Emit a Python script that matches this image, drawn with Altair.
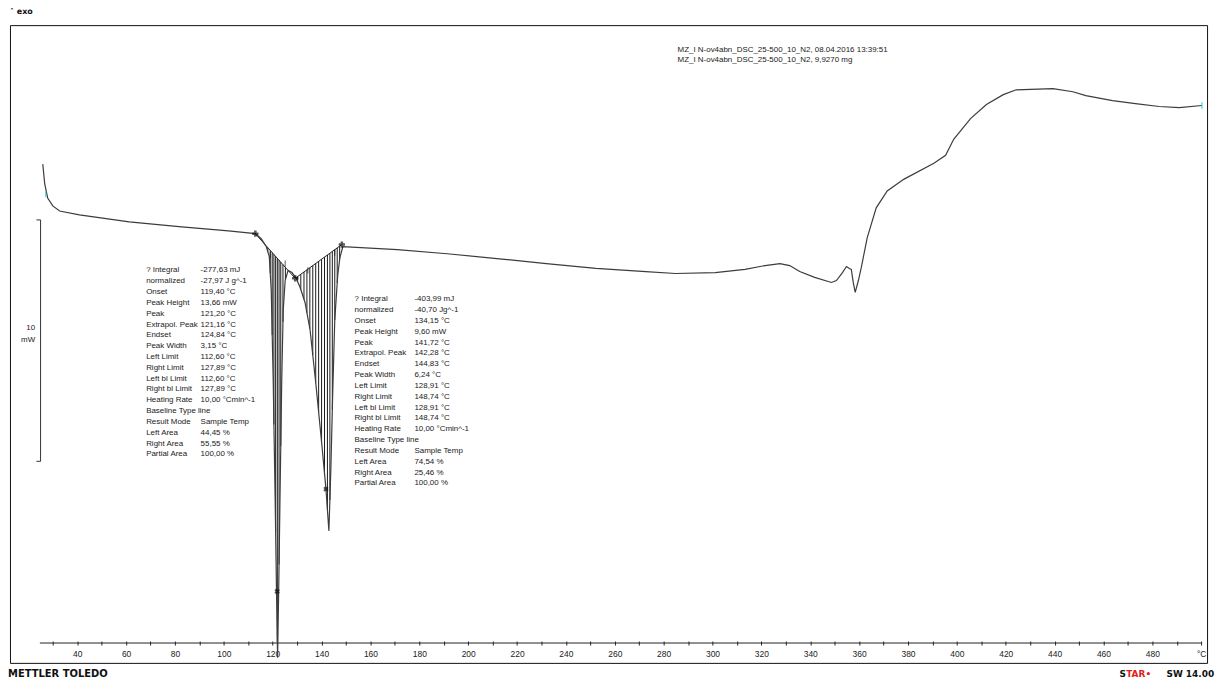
import altair as alt
import pandas as pd
import numpy as np

# ---- DSC curve (temperature in degC, heat flow in mW, arbitrary offset) ----
temp = [25.9, 26.7, 27.9, 30.0, 32.8, 40.9, 61.3, 81.6, 101.9, 112.9, 115.3, 117.4,
        118.6, 119.4, 120.2, 121.0, 121.6, 122.0, 122.4, 123.1, 123.7, 124.3, 125.1,
        126.3, 127.9, 129.6, 131.2, 133.2, 135.3, 137.7, 140.1, 141.8, 143.0, 143.8,
        144.6, 145.4, 146.6, 147.5, 148.7, 171.0, 191.4, 211.7, 232.0, 252.3, 272.7,
        284.9, 301.1, 313.3, 321.5, 327.6, 331.6, 335.7, 341.8, 348.7, 350.7, 353.2,
        354.8, 356.0, 356.8, 357.6, 358.4, 359.7, 360.9, 363.3, 367.0, 371.5, 378.4,
        390.6, 395.4, 398.7, 405.6, 412.1, 419.0, 424.3, 439.3, 447.5, 452.8, 463.7,
        473.1, 482.8, 491.0, 500.3]
heat_flow = [20.66, 19.84, 19.26, 18.93, 18.72, 18.56, 18.27, 18.07, 17.90, 17.78, 17.57, 17.24,
             16.83, 15.43, 11.73, 6.79, 2.67, 0.21, 2.67, 7.61, 11.73, 14.61, 15.84,
             16.26, 16.17, 15.93, 15.56, 14.94, 13.79, 11.52, 9.05, 7.20, 5.47, 8.02,
             11.32, 14.20, 16.05, 16.79, 17.24, 17.12, 16.95, 16.75, 16.54, 16.34, 16.21,
             16.13, 16.17, 16.30, 16.46, 16.54, 16.46, 16.21, 15.97, 15.76, 15.84, 16.17,
             16.42, 16.34, 16.30, 15.76, 15.35, 15.84, 16.38, 17.61, 18.85, 19.55, 20.04,
             20.70, 21.03, 21.69, 22.55, 23.13, 23.54, 23.74, 23.79, 23.66, 23.50, 23.29,
             23.17, 23.05, 23.00, 23.09]

# integration baseline (left limit, split point, right limit)
base_t = [112.9, 129.2, 148.3]
base_mw = [17.78, 15.93, 17.33]

# hatch line temperatures inside the integrated areas
hatch_t = [114.5, 115.8, 117.0, 118.0, 119.0, 119.8, 120.5, 121.2, 121.9, 122.6, 123.3,
           124.2, 125.2, 126.4, 127.6, 128.6,
           130.2, 131.5, 132.8, 134.0, 135.2, 136.4, 137.6, 138.8, 140.0, 141.2, 142.4,
           143.4, 144.4, 145.4, 146.4, 147.4]

# markers
limit_t = [112.9, 129.2, 148.3]
limit_mw = [17.78, 15.93, 17.33]
peak_t = [121.8, 141.8]
peak_mw = [2.96, 7.20]
onset_t = [119.0, 125.1, 134.4, 145.4]
onset_mw = [16.9, 16.54, 16.26, 17.0]
cyan_t = [27.1, 500.3]
cyan_mw = [19.42, 23.09]

# 10 mW scale bar
bar_t = [23.3, 25.0, 25.0, 23.3]
bar_mw = [18.35, 18.35, 8.35, 8.35]

labels1 = ["? Integral", "\u00a0\u00a0normalized", "Onset", "Peak Height", "Peak", "Extrapol. Peak",
           "Endset", "Peak Width", "Left Limit", "Right Limit", "Left bl Limit", "Right bl Limit",
           "Heating Rate", "Baseline Type  line", "Result Mode", "Left Area", "Right Area", "Partial Area"]
values1 = ["-277,63 mJ", "-27,97 J g^-1", "119,40 °C", "13,66 mW", "121,20 °C", "121,16 °C",
           "124,84 °C", "3,15 °C", "112,60 °C", "127,89 °C", "112,60 °C", "127,89 °C",
           "10,00 °Cmin^-1", "", "Sample Temp", "44,45 %", "55,55 %", "100,00 %"]
labels2 = ["? Integral", "\u00a0\u00a0normalized", "Onset", "Peak Height", "Peak", "Extrapol. Peak",
           "Endset", "Peak Width", "Left Limit", "Right Limit", "Left bl Limit", "Right bl Limit",
           "Heating Rate", "Baseline Type  line", "Result Mode", "Left Area", "Right Area", "Partial Area"]
values2 = ["-403,99 mJ", "-40,70 Jg^-1", "134,15 °C", "9,60 mW", "141,72 °C", "142,28 °C",
           "144,83 °C", "6,24 °C", "128,91 °C", "148,74 °C", "128,91 °C", "148,74 °C",
           "10,00 °Cmin^-1", "", "Sample Temp", "74,54 %", "25,46 %", "100,00 %"]
header_lines = ["MZ_I N-ov4abn_DSC_25-500_10_N2, 08.04.2016 13:39:51",
                "MZ_I N-ov4abn_DSC_25-500_10_N2, 9,9270 mg"]

# ---------------- build tables ----------------
XDOM = [12.48, 502.4]
YDOM = [0, 26.42]
LINE = 0.4486
FONT = "Liberation Sans"

xs = alt.Scale(domain=XDOM, nice=False, zero=False)
ys = alt.Scale(domain=YDOM, nice=False, zero=False)

curve = pd.DataFrame({"t": temp, "mw": heat_flow, "i": range(len(temp))})
base = pd.DataFrame({"t": base_t, "mw": base_mw, "i": range(len(base_t))})
top = np.interp(hatch_t, base_t, base_mw)
bot = np.interp(hatch_t, temp, heat_flow)
hatch = pd.DataFrame({"t": hatch_t, "top": top, "bot": bot})
hatch = hatch[hatch["bot"] < hatch["top"]]

X_AXIS = alt.Axis(values=list(range(30, 501, 10)),
                  labelExpr="datum.value == 500 ? '°C' : (datum.value % 20 == 0 ? datum.label : '')",
                  domain=False, grid=False, offset=-22, tickSize=4, tickColor="#222",
                  labelFontSize=8.5, labelFont=FONT, labelColor="#222", labelPadding=5,
                  labelOverlap=False, labelFlush=False, title=None)
X = alt.X("t:Q", scale=xs, title=None, axis=X_AXIS)
Y = alt.Y("mw:Q", scale=ys, axis=None)

layers = []

# axis line
axline = pd.DataFrame({"t": [24.7], "t2": [500.0], "mw": [0.823]})
layers.append(alt.Chart(axline).mark_rule(color="#222", strokeWidth=1).encode(
    x=X, x2="t2:Q", y=Y))

# hatch lines
layers.append(alt.Chart(hatch).mark_rule(color="#1a1a1a", strokeWidth=1).encode(
    x=X, y=alt.Y("top:Q", scale=ys, axis=None), y2="bot:Q"))

# baseline
layers.append(alt.Chart(base).mark_line(color="#222", strokeWidth=1).encode(
    x=X, y=Y, order="i:Q"))

# curve
layers.append(alt.Chart(curve).mark_line(color="#3c3c3c", strokeWidth=1.2).encode(
    x=X, y=Y, order="i:Q"))

# markers
lim = pd.DataFrame({"t": limit_t, "mw": limit_mw})
layers.append(alt.Chart(lim).mark_point(shape="cross", size=40, filled=True, color="#111",
                                        strokeWidth=0).encode(x=X, y=Y))
pk = pd.DataFrame({"t": peak_t, "mw": peak_mw})
layers.append(alt.Chart(pk).mark_point(shape="cross", angle=45, size=30, filled=True, color="#111",
                                       strokeWidth=0).encode(x=X, y=Y))
on = pd.DataFrame({"t": onset_t, "mw": onset_mw})
layers.append(alt.Chart(on).mark_point(shape="M0,-1L0,1", size=40, filled=False, color="#111",
                                       strokeWidth=1).encode(x=X, y=Y))
cy = pd.DataFrame({"t": cyan_t, "mw": cyan_mw})
layers.append(alt.Chart(cy).mark_point(shape="M0,-1L0,1", size=40, filled=False, color="#33cccc",
                                       strokeWidth=1.5).encode(x=X, y=Y))

# scale bar
bar = pd.DataFrame({"t": bar_t, "mw": bar_mw, "i": range(4)})
layers.append(alt.Chart(bar).mark_line(color="#333", strokeWidth=1).encode(
    x=X, y=Y, order="i:Q"))
bar_lbl = pd.DataFrame({"t": [22.8, 22.8], "mw": [13.87, 13.37], "txt": ["10", "mW"]})
layers.append(alt.Chart(bar_lbl).mark_text(align="right", baseline="middle", fontSize=8,
                                           font=FONT, color="#222").encode(
    x=X, y=Y, text="txt:N"))

# info boxes
def box(labels, values, x_lab, x_val, y0):
    rows = []
    for k, (l, v) in enumerate(zip(labels, values)):
        rows.append({"t": x_lab, "mw": y0 - k * LINE, "txt": l})
        if v:
            rows.append({"t": x_val, "mw": y0 - k * LINE, "txt": v})
    return rows

rows = box(labels1, values1, 68.2, 90.5, 16.26) + box(labels2, values2, 153.5, 178.0, 15.06)
rows += [{"t": 285.7, "mw": 25.39, "txt": header_lines[0]},
         {"t": 285.7, "mw": 24.98, "txt": header_lines[1]}]
info = pd.DataFrame(rows)
layers.append(alt.Chart(info).mark_text(align="left", baseline="middle", fontSize=8,
                                        font=FONT, color="#1a1a1a").encode(
    x=X, y=Y, text="txt:N"))

# page furniture outside the frame
brand = pd.DataFrame({"t": [11.7, 12.5], "mw": [-0.45, 26.95], "txt": ["METTLER TOLEDO", "˄ exo"],
                      "fs": [10, 8]})
layers.append(alt.Chart(brand).mark_text(align="left", baseline="middle", fontWeight="bold",
                                         font="DejaVu Sans", color="#111").encode(
    x=X, y=Y, text="txt:N",
    size=alt.Size("fs:Q", scale=None, legend=None)))
star_s = pd.DataFrame({"t": [466.6], "mw": [-0.45], "txt": ["S"]})
layers.append(alt.Chart(star_s).mark_text(align="left", baseline="middle", fontWeight="bold",
                                          font="DejaVu Sans", fontSize=9, color="#111").encode(
    x=X, y=Y, text="txt:N"))
star_r = pd.DataFrame({"t": [469.3], "mw": [-0.45], "txt": ["TAR•"]})
layers.append(alt.Chart(star_r).mark_text(align="left", baseline="middle", fontWeight="bold",
                                          font="DejaVu Sans", fontSize=9, color="#e02020").encode(
    x=X, y=Y, text="txt:N"))
sw = pd.DataFrame({"t": [505.3], "mw": [-0.45], "txt": ["SW 14.00"]})
layers.append(alt.Chart(sw).mark_text(align="right", baseline="middle", fontWeight="bold",
                                      font="DejaVu Sans", fontSize=9, color="#111").encode(
    x=X, y=Y, text="txt:N"))

chart = alt.layer(*layers).properties(
    width=1205, height=642,
    autosize=alt.AutoSizeParams(type="none"),
    padding={"left": 2, "top": 15, "right": 8, "bottom": 17},
    background="white",
).configure_view(stroke="#111", strokeWidth=1)

chart.save("out.html", embed_options={"renderer": "svg", "actions": False})
